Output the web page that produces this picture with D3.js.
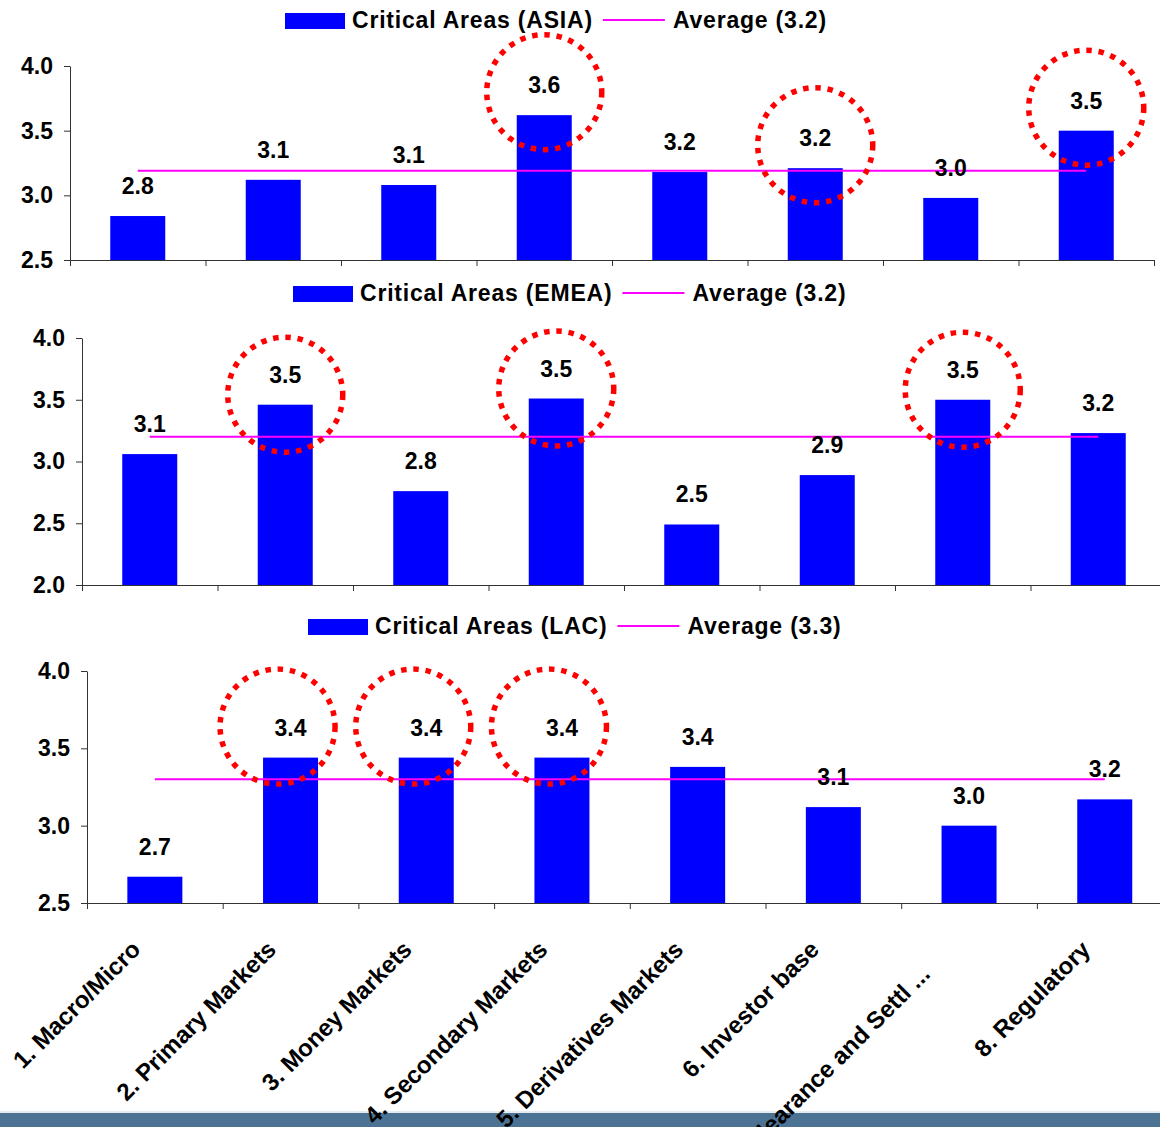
<!DOCTYPE html>
<html><head><meta charset="utf-8">
<script src="https://cdn.jsdelivr.net/npm/d3@7"></script>
<style>
body{margin:0;background:#fff;}
svg{display:block;}
text{font-family:"Liberation Sans",Arial,sans-serif;font-weight:bold;fill:#000;}
</style>
</head><body>
<svg id="chart" width="1160" height="1127"></svg>
<script>
// ---- data ----
const categories = ["1. Macro/Micro","2. Primary Markets","3. Money Markets","4. Secondary Markets","5. Derivatives Markets","6. Investor base","7. Clearance and Settl ...","8. Regulatory"];
const regionNames = ["ASIA","EMEA","LAC"];
const asiaValues = [2.84, 3.12, 3.08, 3.62, 3.18, 3.21, 2.98, 3.50];
const emeaValues = [3.06, 3.46, 2.76, 3.51, 2.49, 2.89, 3.50, 3.23];
const lacValues  = [2.67, 3.44, 3.44, 3.44, 3.38, 3.12, 3.00, 3.17];
const averageValues = [3.19, 3.20, 3.30];
const averageLabels = ["3.2", "3.2", "3.3"];
const asiaHighlights = [3, 5, 7];
const emeaHighlights = [1, 3, 6];
const lacHighlights  = [1, 2, 3];
const asiaTicks = [2.5, 3.0, 3.5, 4.0];
const emeaTicks = [2.0, 2.5, 3.0, 3.5, 4.0];
const lacTicks  = [2.5, 3.0, 3.5, 4.0];

// ---- layout ----
const panels = [
  {name: regionNames[0], values: asiaValues, avg: averageValues[0], avgLabel: averageLabels[0], hl: asiaHighlights, ticks: asiaTicks,
   x0: 70, step: 135.5, yTop: 66, yBottom: 260, legendX: 285, legendY: 13, circleDx: 0, circleDy: -23, showX: false},
  {name: regionNames[1], values: emeaValues, avg: averageValues[1], avgLabel: averageLabels[1], hl: emeaHighlights, ticks: emeaTicks,
   x0: 82, step: 135.5, yTop: 338, yBottom: 585, legendX: 293, legendY: 286, circleDx: 0, circleDy: -10, showX: false},
  {name: regionNames[2], values: lacValues, avg: averageValues[2], avgLabel: averageLabels[2], hl: lacHighlights, ticks: lacTicks,
   x0: 87, step: 135.7, yTop: 671, yBottom: 903, legendX: 308, legendY: 619, circleDx: -13, circleDy: -31, showX: true}
];

const svg = d3.select("#chart");
svg.append("rect").attr("width",1160).attr("height",1127).attr("fill","#fff");

// bottom slide strip
svg.append("rect").attr("x",0).attr("y",1111).attr("width",1160).attr("height",2).attr("fill","#e4ecf1");
svg.append("rect").attr("x",0).attr("y",1113).attr("width",1160).attr("height",14).attr("fill","#4d7394");

const fmt = d3.format(".1f");
const barColor = "#0000ff";
const avgColor = "#ff00ff";

panels.forEach(p => {
  const g = svg.append("g");
  const n = categories.length;
  const x1 = p.x0 + n * p.step;
  const pi = 1 - 55 / p.step;
  const x = d3.scaleBand().domain(categories).range([p.x0, x1]).paddingInner(pi).paddingOuter(pi / 2);
  const xc = c => x(c) + x.bandwidth() / 2;
  const yMin = p.ticks[0], yMax = p.ticks[p.ticks.length - 1];
  const y = d3.scaleLinear().domain([yMin, yMax]).range([p.yBottom, p.yTop]);

  // bars
  g.selectAll("rect.bar").data(p.values).join("rect")
    .attr("class","bar")
    .attr("x", (d,i) => x(categories[i]))
    .attr("width", x.bandwidth())
    .attr("y", d => y(d))
    .attr("height", d => y(yMin) - y(d))
    .attr("fill", barColor);

  // average line
  const line = d3.line().x(d => xc(d)).y(() => y(p.avg));
  g.append("path").attr("d", line([categories[0], categories[n-1]]))
    .attr("stroke", avgColor).attr("stroke-width", 2).attr("fill","none");

  // y axis
  const ya = g.append("g").attr("transform", `translate(${p.x0},0)`)
    .call(d3.axisLeft(y).tickValues(p.ticks).tickFormat(fmt).tickSize(6).tickSizeOuter(0).tickPadding(11));
  ya.selectAll("text").style("font-size","23px").attr("fill","#000");
  ya.selectAll("line,path").attr("stroke","#333");

  // x axis (tick marks at band boundaries)
  const xb = d3.scaleLinear().domain([0, n]).range([p.x0, x1]);
  const xa = g.append("g").attr("transform", `translate(0,${p.yBottom})`)
    .call(d3.axisBottom(xb).tickValues(d3.range(n + 1)).tickFormat("").tickSize(6).tickSizeOuter(0));
  xa.selectAll("line,path").attr("stroke","#333");

  // value labels
  g.selectAll("text.val").data(p.values).join("text")
    .attr("class","val")
    .attr("x", (d,i) => xc(categories[i]))
    .attr("y", d => y(d) - 22)
    .attr("text-anchor","middle")
    .style("font-size","23px")
    .text(d => fmt(d));

  // highlight circles
  g.selectAll("circle.hl").data(p.hl).join("circle")
    .attr("class","hl")
    .attr("cx", i => xc(categories[i]) + p.circleDx)
    .attr("cy", i => y(p.values[i]) + p.circleDy)
    .attr("r", 57.5)
    .attr("fill","none")
    .attr("stroke","#ff0000")
    .attr("stroke-width",5.5)
    .attr("stroke-dasharray","5.5,6.8");

  // legend
  const lg = g.append("g");
  lg.append("rect").attr("x", p.legendX).attr("y", p.legendY).attr("width",60).attr("height",16).attr("fill",barColor);
  const t1 = lg.append("text").attr("x", p.legendX + 67).attr("y", p.legendY + 15)
    .style("font-size","23px").style("letter-spacing","0.8px")
    .text(`Critical Areas (${p.name})`);
  const w1 = t1.node().getComputedTextLength();
  const lx = p.legendX + 67 + w1 + 10;
  lg.append("line").attr("x1", lx).attr("x2", lx + 62).attr("y1", p.legendY + 7).attr("y2", p.legendY + 7)
    .attr("stroke", avgColor).attr("stroke-width", 2);
  lg.append("text").attr("x", lx + 70).attr("y", p.legendY + 15)
    .style("font-size","23px").style("letter-spacing","0.8px")
    .text(`Average (${p.avgLabel})`);

  // category labels
  if (p.showX) {
    g.selectAll("text.cat").data(categories).join("text")
      .attr("class","cat")
      .attr("text-anchor","end")
      .attr("transform", c => `translate(${xc(c) - 13},${p.yBottom + 48}) rotate(-45)`)
      .attr("dx", c => c.endsWith("...") ? "-1.45em" : 0)
      .style("font-size","24px")
      .text(c => c);
  }
});
</script>
</body></html>
